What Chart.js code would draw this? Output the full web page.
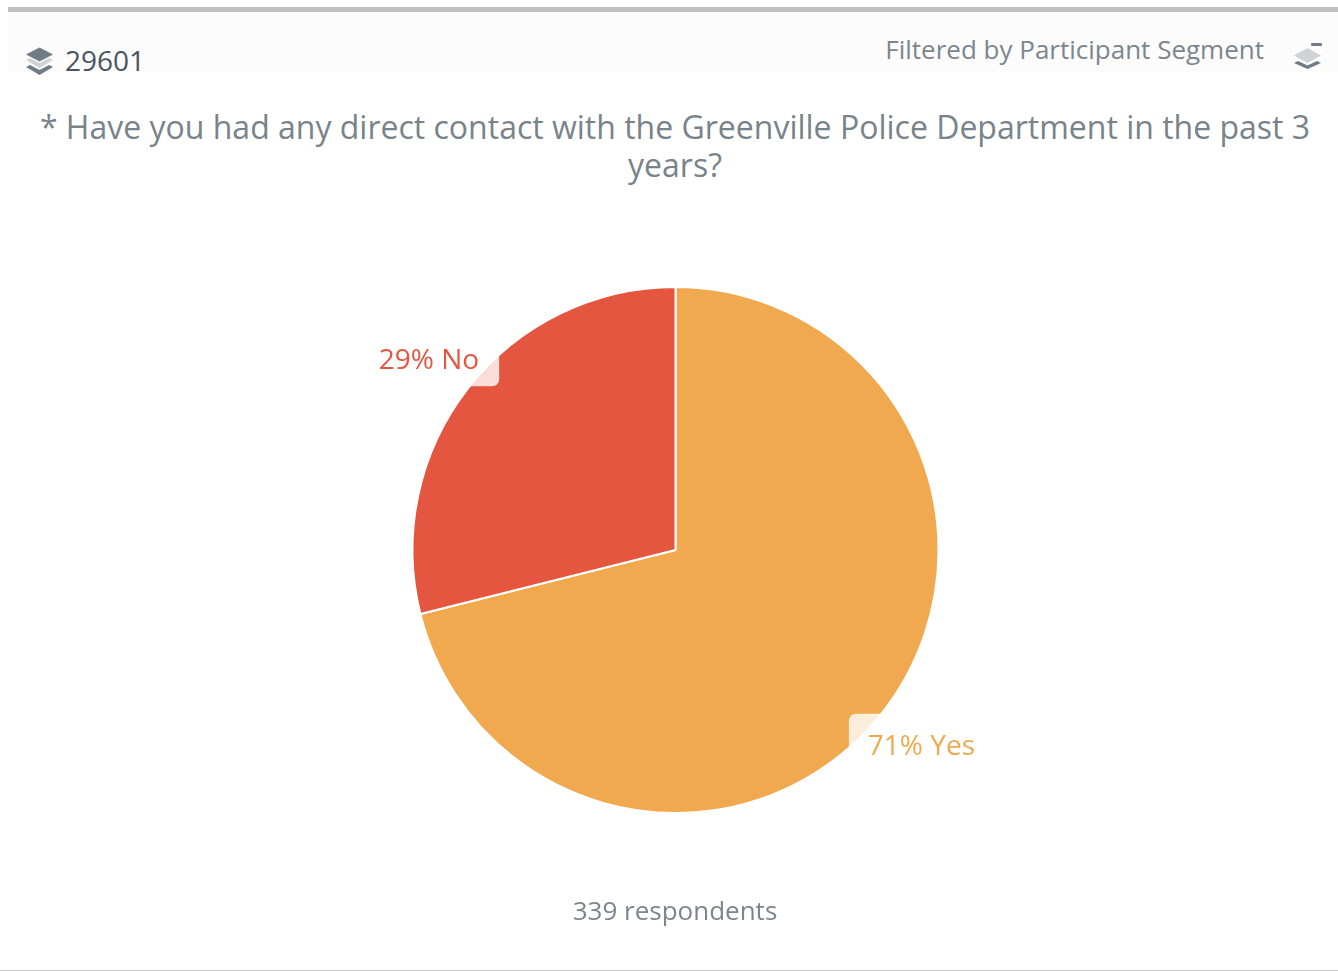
<!DOCTYPE html>
<html>
<head>
<meta charset="utf-8">
<title>29601</title>
<script src="https://cdn.jsdelivr.net/npm/chart.js@4"></script>
<style>
  html, body { margin: 0; padding: 0; background: #fff; }
  body { width: 1338px; height: 971px; overflow: hidden; position: relative; font-family: "Open Sans", sans-serif; }
  #chart { position: absolute; left: 0; top: 0; }
  .topbar { position: absolute; left: 8px; right: 0; top: 7px; height: 5px; background: #c0c0c0; }
  .head { position: absolute; left: 8px; right: 0; top: 12px; height: 60px; background: #fcfcfc; }
  .bottom { position: absolute; left: 0; right: 0; top: 970px; height: 1px; background: #c4c4c4; }
  .txt { position: absolute; white-space: nowrap; line-height: 1; }
  #segment { left: 65px; top: 46px; font-size: 28px; color: #4a5560; }
  #filter { right: 74px; top: 36px; font-size: 26px; color: #7d868d; }
  #question { left: 20px; width: 1310px; top: 108px; font-size: 32px; line-height: 38px; color: #79838a; text-align: center; white-space: normal; }
  #count { left: 0; width: 1350px; top: 897px; font-size: 26px; color: #7d868d; text-align: center; }
  svg { position: absolute; }
</style>
</head>
<body>
<div class="head"></div>
<div class="topbar"></div>
<svg style="left:24px;top:44px" width="32" height="34" viewBox="0 0 32 34">
  <path d="M2 23 L6 21 L15.5 26 L25 21 L29 23 L15.5 31 Z" fill="#6f7c87"/>
  <path d="M2 16 L6 14 L15.5 19 L25 14 L29 16 L15.5 24 Z" fill="#cfd3d6"/>
  <path d="M2 10.5 L15.5 3.5 L29 10.5 L15.5 17.5 Z" fill="#6f7c87"/>
</svg>
<div class="txt" id="segment">29601</div>
<div class="txt" id="filter">Filtered by Participant Segment</div>
<svg style="left:1292px;top:40px" width="32" height="32" viewBox="0 0 32 32">
  <rect x="19" y="3" width="11" height="3" rx="1" fill="#6f7c87"/>
  <path d="M2 23 L6 21 L15.5 25.5 L25 21 L29 23 L15.5 29 Z" fill="#6f7c87"/>
  <path d="M2 15.5 L15.5 8 L29 15.5 L15.5 23 Z" fill="#cfd3d6"/>
</svg>
<div class="txt" id="question">* Have you had any direct contact with the Greenville Police Department in the past 3 years?</div>
<canvas id="chart" width="1338" height="971"></canvas>
<div class="txt" id="count">339 respondents</div>
<div class="bottom"></div>

<script>
const categories = ['Yes', 'No'];
const respondents = [241, 98];
const sliceColors = ['#f0a94e', '#e55640'];
const total = respondents.reduce((a, b) => a + b, 0);

// white tabs with the value text, hung off the middle of each slice's rim
const labelPlugin = {
  id: 'sliceLabels',
  afterDatasetsDraw(chart) {
    const ctx = chart.ctx;
    chart.getDatasetMeta(0).data.forEach((arc, i) => {
      const mid = (arc.startAngle + arc.endAngle) / 2;
      const mx = arc.x + Math.cos(mid) * arc.outerRadius;
      const my = arc.y + Math.sin(mid) * arc.outerRadius;
      const onRight = mx > arc.x;
      const boxW = 150, boxH = 62;
      const boxX = onRight ? mx - 34 : mx + 31 - boxW;
      const boxY = onRight ? my + 2 : my - 2 - boxH;
      ctx.save();
      ctx.fillStyle = 'rgba(255,255,255,0.8)';
      ctx.beginPath();
      ctx.roundRect(boxX, boxY, boxW, boxH, 7);
      ctx.fill();
      ctx.fillStyle = sliceColors[i];
      ctx.font = '28px "Open Sans"';
      ctx.textBaseline = 'alphabetic';
      ctx.textAlign = onRight ? 'left' : 'right';
      const text = Math.round(respondents[i] / total * 100) + '% ' + categories[i];
      const tx = onRight ? boxX + 19 : boxX + boxW - 20;
      const ty = onRight ? boxY + 41 : boxY + boxH - 17;
      ctx.fillText(text, tx, ty);
      ctx.restore();
    });
  }
};

new Chart(document.getElementById('chart'), {
  type: 'pie',
  data: {
    labels: categories,
    datasets: [{
      data: respondents,
      backgroundColor: sliceColors,
      borderColor: '#ffffff',
      borderWidth: 2
    }]
  },
  options: {
    responsive: false,
    animation: false,
    layout: { padding: { left: 411.5, right: 398.5, top: 286, bottom: 157 } },
    plugins: { legend: { display: false }, tooltip: { enabled: false } }
  },
  plugins: [labelPlugin]
});
</script>
</body>
</html>
